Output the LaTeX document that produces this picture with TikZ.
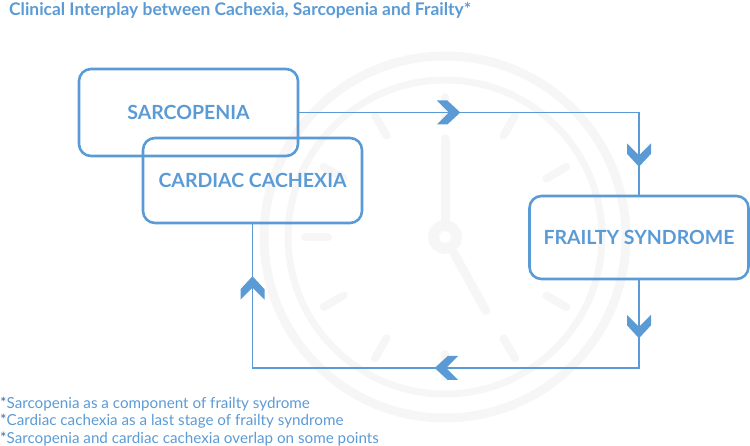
\documentclass[tikz,border=0pt]{standalone}
\usepackage{fontspec}
\setmainfont{Lato}
\usetikzlibrary{decorations.markings}
\definecolor{ibl}{RGB}{91,155,213}
\definecolor{istar}{RGB}{70,105,150}
\definecolor{wmark}{RGB}{246,246,246}
\tikzset{
  box/.style={draw=ibl, line width=2.6pt, rounded corners=12pt, text=ibl,
    font=\bfseries\fontsize{19.5}{22}\selectfont, minimum width=219pt, align=center},
  link/.style={draw=ibl, line width=1.8pt},
  chev/.style={postaction={decorate, decoration={markings,
    mark=at position #1 with {\fill[ibl] (-11.5,-12) -- (-1,-12) -- (12,0) -- (-1,12) -- (-11.5,12) -- (0.5,0) -- cycle;}}}},
  note/.style={anchor=base west, inner sep=0pt, text=ibl, font=\fontsize{15.2}{18}\selectfont},
}
\begin{document}
\begin{tikzpicture}[x=1pt,y=-1pt]
    \useasboundingbox (0,0) rectangle (750,446);
    %clock
    \begin{scope}[shift={(445,237)}, draw=wmark, line cap=round]
        \draw[line width=9pt] (0,0) circle (181);
        \draw[line width=7pt] (0,0) circle (157);
        \foreach \a in {30,60,...,330}
            \draw[line width=8pt] (\a:117) -- (\a:140);
        \draw[line width=11pt] (0,0) circle (11.5);
        \draw[line width=9pt] (0,-18) -- (0,-98);
        \draw[line width=9pt] (61:19) -- (61:84);
    \end{scope}

    %title
    \node (title) [anchor=base west, inner sep=0pt, text=ibl, font=\bfseries\fontsize{17.4}{20}\selectfont]
        at (9,16) {Clinical Interplay between Cachexia, Sarcopenia and Frailty*};

    %boxes
    \node (sarc) [box, minimum height=87pt] at (188.5,112.5) {SARCOPENIA};
    \node (cach) [box, minimum height=85pt] at (252.5,180.5) {CARDIAC CACHEXIA};
    \node (frail) [box, minimum height=83pt] at (639,237.5) {FRAILTY SYNDROME};

    %links
    \draw[link, chev=149pt, chev=382pt] (sarc.east) -| (frail.north);
    \coordinate (lowR) at (frail.south |- 0,368);
    \draw[link, chev=46pt, chev=280pt, chev=554pt] (frail.south) -- (lowR) -| (cach.south);

    %notes
    \node (n1) [note] at (0,408) {\textcolor{istar}{*}Sarcopenia as a component of frailty sydrome};
    \node (n2) [note] at (0,425.5) {\textcolor{istar}{*}Cardiac cachexia as a last stage of frailty syndrome};
    \node (n3) [note] at (0,443) {\textcolor{istar}{*}Sarcopenia and cardiac cachexia overlap on some points};
\end{tikzpicture}
\end{document}
